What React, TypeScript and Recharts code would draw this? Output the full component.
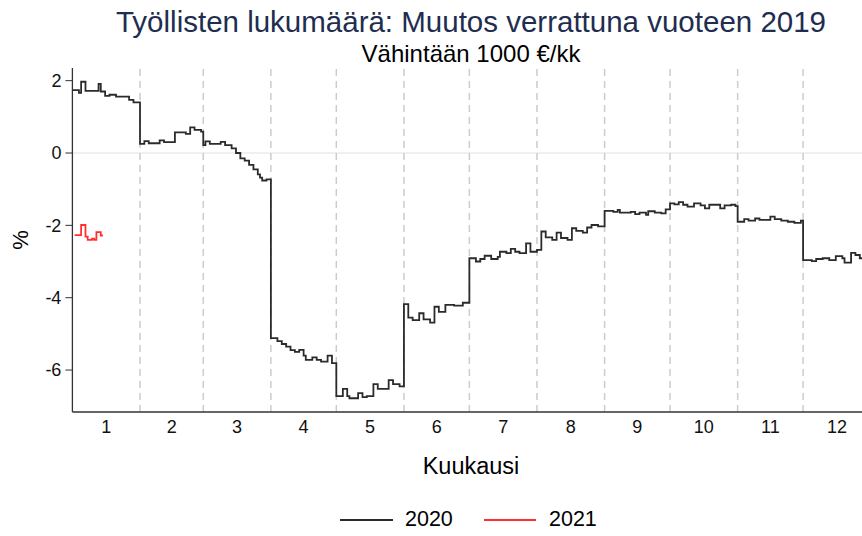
import React from 'react';
import { LineChart, Line, XAxis, YAxis, ReferenceLine } from 'recharts';

const monthLabels = ['1', '2', '3', '4', '5', '6', '7', '8', '9', '10', '11', '12'];
const monthStarts = [0, 31, 60, 91, 121, 152, 182, 213, 244, 274, 305, 335, 366];
const yTicks = [2, 0, -2, -4, -6];

const days2020 = [
  0, 3, 4, 6, 12, 13, 15, 17, 20, 26, 28,
  31, 33, 35, 40, 42, 47, 52, 54, 56, 59,
  60, 61, 63, 68, 70, 73, 75, 77, 79, 81, 83, 85, 86, 87, 89,
  91, 94, 96, 98, 100, 102, 104, 106, 107, 110, 112, 114, 117, 119,
  121, 124, 126, 127, 131, 133, 135, 138, 140, 145, 147, 150,
  152, 154, 156, 159, 161, 164, 166, 168, 171, 175, 179,
  182, 185, 187, 189, 192, 195, 196, 199, 201, 203, 205, 208, 210,
  213, 215, 217, 220, 222, 224, 227, 229, 231, 234, 236, 238, 241,
  244, 248, 250, 251, 256, 258, 260, 263, 264, 267, 270, 272,
  274, 276, 278, 280, 282, 285, 288, 290, 292, 297, 299, 302, 304,
  305, 308, 310, 313, 315, 320, 322, 325, 328, 331, 334,
  335, 339, 341, 344, 347, 350, 353, 354, 357, 359, 361, 363, 366,
];
const values2020 = [
  1.74, 1.66, 1.97, 1.72, 1.91, 1.70, 1.58, 1.61, 1.56, 1.47, 1.40,
  0.25, 0.33, 0.27, 0.35, 0.30, 0.57, 0.53, 0.71, 0.64, 0.59,
  0.22, 0.32, 0.25, 0.31, 0.22, 0.13, 0.0, -0.15, -0.21, -0.33, -0.45, -0.59, -0.68, -0.76, -0.73,
  -5.12, -5.2, -5.28, -5.35, -5.45, -5.5, -5.44, -5.6, -5.72, -5.65, -5.72, -5.77, -5.6, -5.81,
  -6.72, -6.52, -6.72, -6.78, -6.64, -6.75, -6.72, -6.39, -6.52, -6.28, -6.39, -6.45,
  -4.18, -4.55, -4.62, -4.43, -4.6, -4.69, -4.25, -4.39, -4.2, -4.22, -4.14,
  -2.91, -3.0, -2.93, -2.84, -2.93, -2.87, -2.73, -2.77, -2.65, -2.73, -2.77, -2.5, -2.73,
  -2.68, -2.17, -2.33, -2.4, -2.2, -2.35, -2.4, -2.08, -2.15, -2.2, -2.06, -1.99, -2.03,
  -1.6, -1.63, -1.57, -1.65, -1.63, -1.69, -1.65, -1.71, -1.61, -1.65, -1.67, -1.56,
  -1.39, -1.42, -1.36, -1.43, -1.48, -1.39, -1.45, -1.53, -1.43, -1.53, -1.45, -1.43, -1.47,
  -1.9, -1.83, -1.87, -1.81, -1.85, -1.76, -1.83, -1.87, -1.9, -1.93, -1.87,
  -2.96, -2.99, -2.93, -2.91, -2.96, -2.85, -2.91, -3.03, -2.76, -2.82, -2.91, -3.0, -3.0,
];

const days2021 = [1, 4, 6, 7, 9, 10, 11, 13, 14];
const values2021 = [-2.27, -1.99, -2.31, -2.4, -2.37, -2.4, -2.19, -2.28, -2.28];

const series2020 = days2020.map((d, i) => ({ d, v: values2020[i] }));
const series2021 = days2021.map((d, i) => ({ d, v: values2021[i] }));
const monthCenters = monthLabels.map((_, i) => (monthStarts[i] + monthStarts[i + 1]) / 2);
const boundaries = monthStarts.slice(1, 12);

const FONT = '"Liberation Sans", Arial, sans-serif';

export default function App() {
  return (
    <div style={{ width: 862, height: 536, overflow: 'hidden', position: 'relative', fontFamily: FONT, background: '#fff' }}>
      <style>{'html,body{margin:0;padding:0;overflow:hidden;}'}</style>
      <div style={{ position: 'absolute', left: 0, width: 942, top: 7, textAlign: 'center', fontSize: 29.5, lineHeight: '29.5px', color: '#1e2d50', whiteSpace: 'nowrap' }}>
        Työllisten lukumäärä: Muutos verrattuna vuoteen 2019
      </div>
      <div style={{ position: 'absolute', left: 0, width: 942, top: 42, textAlign: 'center', fontSize: 24, lineHeight: '24px', color: '#000', whiteSpace: 'nowrap' }}>
        Vähintään 1000 €/kk
      </div>
      <div style={{ position: 'absolute', left: 0, top: 0 }}>
        <LineChart width={880} height={536} margin={{ top: 68, right: 9.3, bottom: 94, left: 12.4 }}>
          <XAxis
            dataKey="d"
            type="number"
            domain={[0, 366]}
            ticks={monthCenters}
            interval={0}
            tickFormatter={(v: number) => monthLabels[monthCenters.indexOf(v)] ?? ''}
            tickLine={false}
            axisLine={{ stroke: '#333', strokeWidth: 1.3 }}
            tick={{ fill: '#111', fontSize: 18, fontFamily: FONT }}
            height={30}
          />
          <YAxis
            type="number"
            domain={[-7.16, 2.35]}
            ticks={yTicks}
            interval={0}
            allowDataOverflow
            width={60}
            tickSize={7}
            tickMargin={4}
            tickLine={{ stroke: '#333' }}
            axisLine={{ stroke: '#333', strokeWidth: 1.3 }}
            tick={{ fill: '#111', fontSize: 18, fontFamily: FONT }}
          />
          <ReferenceLine y={0} stroke="#e2e2e2" strokeWidth={1.2} />
          {boundaries.map((b) => (
            <ReferenceLine key={b} x={b} stroke="#cccccc" strokeWidth={1.5} strokeDasharray="7 5" />
          ))}
          <Line data={series2020} dataKey="v" type="stepAfter" stroke="#2b2b2b" strokeWidth={1.8} dot={false} isAnimationActive={false} />
          <Line data={series2021} dataKey="v" type="stepAfter" stroke="#ff3030" strokeWidth={1.8} dot={false} isAnimationActive={false} />
        </LineChart>
      </div>
      <div style={{ position: 'absolute', left: 6, top: 240, width: 30, height: 0 }}>
        <div style={{ position: 'absolute', left: 0, top: -12, width: 30, textAlign: 'center', fontSize: 22, lineHeight: '24px', transform: 'rotate(-90deg)', color: '#000' }}>%</div>
      </div>
      <div style={{ position: 'absolute', left: 0, width: 942, top: 455, textAlign: 'center', fontSize: 23.5, lineHeight: '23.5px', color: '#000' }}>
        Kuukausi
      </div>
      <div style={{ position: 'absolute', left: 340, top: 519, width: 53, height: 2, background: '#2b2b2b' }} />
      <div style={{ position: 'absolute', left: 405, top: 509, fontSize: 21.5, lineHeight: '21.5px', color: '#000' }}>2020</div>
      <div style={{ position: 'absolute', left: 484, top: 519, width: 52, height: 2, background: '#ff3030' }} />
      <div style={{ position: 'absolute', left: 549, top: 509, fontSize: 21.5, lineHeight: '21.5px', color: '#000' }}>2021</div>
    </div>
  );
}
